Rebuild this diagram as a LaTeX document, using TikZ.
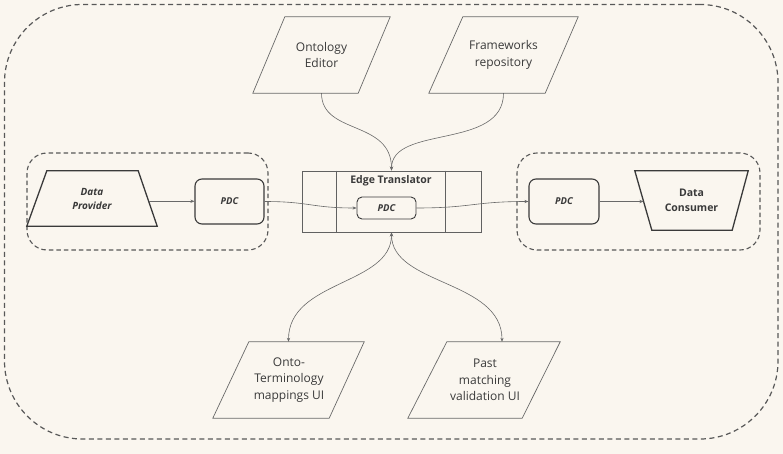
\documentclass[tikz,border=0pt]{standalone}
\usepackage{fontspec}
\setmainfont{Open Sans}
\usetikzlibrary{arrows.meta,calc}
\definecolor{bg}{RGB}{250,246,239}
\definecolor{ink}{RGB}{58,58,58}
\definecolor{thin}{RGB}{105,105,105}
\tikzset{
  lbl/.style={draw=none, align=center, inner sep=0pt, text=ink, font=\fontsize{12}{16.5}\selectfont},
  box/.style={draw=none, inner sep=0pt},
  para/.style={draw=thin, line width=0.7pt, line join=miter},
  trap/.style={draw=ink, line width=1.3pt, line join=miter},
  pdcbox/.style={draw=ink, line width=1.1pt, rounded corners=7pt, inner sep=0pt, text=ink,
    font=\fontsize{9.5}{11}\selectfont\bfseries\itshape},
  etbox/.style={draw=ink!80, line width=0.9pt, inner sep=0pt},
  group/.style={draw=ink!85, dash pattern=on 4.5pt off 3pt, line width=1.1pt, rounded corners=20pt, inner sep=0pt},
  outer/.style={draw=ink!85, dash pattern=on 5pt off 3.5pt, line width=1.2pt, rounded corners=78pt, inner sep=0pt},
  conn/.style={draw=thin, line width=0.6pt, -{Stealth[length=4pt,width=3.2pt]}},
  bconn/.style={draw=thin, line width=0.6pt, {Stealth[length=4pt,width=3.2pt]}-{Stealth[length=4pt,width=3.2pt]}},
}
\begin{document}
\begin{tikzpicture}[x=1pt,y=-1pt]
\fill[bg] (0,0) rectangle (783,454);
\useasboundingbox (0,0) rectangle (783,454);

% outer dashed frame
\node[outer, minimum width=773.5, minimum height=434.5] (frame) at (391.25,221.75) {};

% groups
\node[group, minimum width=241, minimum height=97] (gl) at (147.5,201.5) {};
\node[group, minimum width=243, minimum height=97] (gr) at (638.5,201.5) {};

% Data Provider
\node[box, minimum width=130, minimum height=55] (dp) at (92,198.5) {};
\draw[trap] ([xshift=20]dp.north west) -- ([xshift=-19]dp.north east) -- (dp.south east) -- (dp.south west) -- cycle;
\node[lbl, font=\fontsize{10}{14}\selectfont\bfseries\itshape] (dpt) at (dp.center) {Data\\Provider};

% Data Consumer
\node[box, minimum width=113, minimum height=59] (dc) at (691.5,200.5) {};
\draw[trap] (dc.north west) -- (dc.north east) -- ([xshift=-16]dc.south east) -- ([xshift=17]dc.south west) -- cycle;
\node[lbl, font=\fontsize{10.5}{15}\selectfont\bfseries] (dct) at (dc.center) {Data\\Consumer};

% PDC boxes
\node[pdcbox, minimum width=69, minimum height=45] (pdcl) at (229.5,201.5) {PDC};
\node[pdcbox, minimum width=70, minimum height=45] (pdcr) at (564,201.5) {PDC};

% Edge Translator
\node[etbox, minimum width=179, minimum height=61] (et) at (391.5,201.5) {};
\draw[etbox] ([xshift=35]et.north west) -- ([xshift=35]et.south west);
\draw[etbox] ([xshift=-36]et.north east) -- ([xshift=-36]et.south east);
\node[lbl, font=\fontsize{10.5}{12}\selectfont\bfseries] (ett) at (391,181) {Edge Translator};
\node[pdcbox, line width=0.9pt, minimum width=59, minimum height=22, rounded corners=5pt] (pdci) at (386.5,208) {PDC};

% top parallelograms
\node[box, minimum width=137, minimum height=76] (oe) at (321.5,55) {};
\draw[para] ([xshift=32]oe.north west) -- (oe.north east) -- ([xshift=-32]oe.south east) -- (oe.south west) -- cycle;
\node[lbl] (oet) at (oe.center) {Ontology\\Editor};

\node[box, minimum width=149, minimum height=76] (fr) at (503.5,55) {};
\draw[para] ([xshift=34]fr.north west) -- (fr.north east) -- ([xshift=-33]fr.south east) -- (fr.south west) -- cycle;
\node[lbl] (frt) at (fr.center) {Frameworks\\repository};

% bottom parallelograms
\node[box, minimum width=151, minimum height=76] (ot) at (288.5,380) {};
\draw[para] ([xshift=36]ot.north west) -- (ot.north east) -- ([xshift=-35]ot.south east) -- (ot.south west) -- cycle;
\node[lbl] (ott) at (289,380) {Onto-\\Terminology\\mappings UI};

\node[box, minimum width=152, minimum height=76] (pm) at (484,380) {};
\draw[para] ([xshift=39]pm.north west) -- (pm.north east) -- ([xshift=-38]pm.south east) -- (pm.south west) -- cycle;
\node[lbl] (pmt) at (485,380) {Past\\matching\\validation UI};

% connectors
\coordinate (dpr) at ($([xshift=-19]dp.north east)!0.55!(dp.south east)$);
\draw[conn] (dpr) -- (dpr -| pdcl.west);
\draw[conn] (pdcl.east) .. controls +(45,0) and +(-45,0) .. (pdci.west);
\draw[conn] (pdci.east) .. controls +(55,0) and +(-55,0) .. (pdcr.west);
\coordinate (dcl) at ($(dc.north west)!0.51!([xshift=17]dc.south west)$);
\draw[conn] (pdcr.east) -- (pdcr.east -| dcl);

\draw[conn] (oe.south) .. controls +(0,42) and +(0,-51) .. (et.north);
\draw[conn] (fr.south) .. controls +(0,57) and +(0,-46) .. (et.north);

\coordinate (pmn) at ([xshift=18]pm.north);
\draw[bconn] (et.south) .. controls +(0,53) and +(0,-62) .. (ot.north);
\draw[bconn] (et.south) .. controls +(0,53) and +(0,-62) .. (pmn);
\end{tikzpicture}
\end{document}
